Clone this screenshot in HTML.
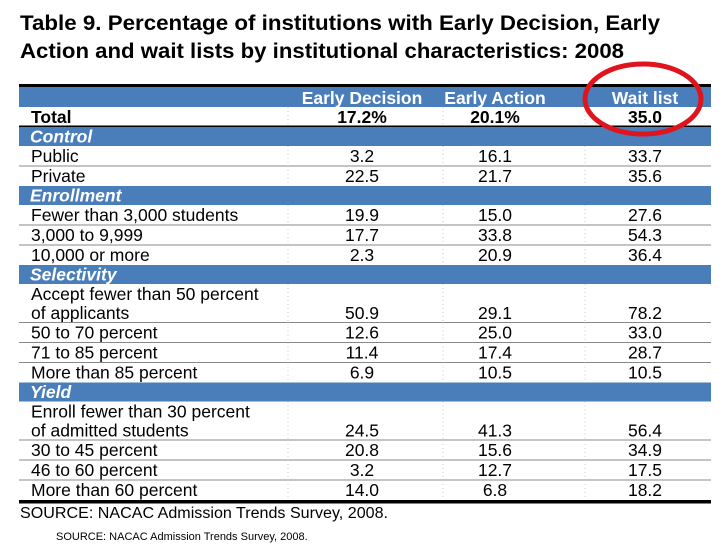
<!DOCTYPE html>
<html><head><meta charset="utf-8"><style>
html,body{margin:0;padding:0;background:#fff;}
svg{display:block;font-family:"Liberation Sans",Arial,sans-serif;}
</style></head><body>
<svg id="s" width="728" height="546" viewBox="0 0 728 546">
<text x="20" y="30" font-size="21" font-weight="bold" textLength="640" lengthAdjust="spacingAndGlyphs">Table 9. Percentage of institutions with Early Decision, Early</text>
<text x="20" y="58" font-size="21" font-weight="bold" textLength="604" lengthAdjust="spacingAndGlyphs">Action and wait lists by institutional characteristics: 2008</text>
<g id="tbl"></g>
<text x="20" y="518" font-size="15.5" textLength="368" lengthAdjust="spacingAndGlyphs">SOURCE: NACAC Admission Trends Survey, 2008.</text>
<text x="56" y="540" font-size="11">SOURCE: NACAC Admission Trends Survey, 2008.</text>
<ellipse cx="643" cy="99" rx="58" ry="35" fill="none" stroke="#e0141c" stroke-width="5"/>
</svg>
<script>
const columns=["Early Decision","Early Action","Wait list"];
const rowLabels=["Total","Control","Public","Private","Enrollment","Fewer than 3,000 students","3,000 to 9,999","10,000 or more","Selectivity","Accept fewer than 50 percent|of applicants","50 to 70 percent","71 to 85 percent","More than 85 percent","Yield","Enroll fewer than 30 percent|of admitted students","30 to 45 percent","46 to 60 percent","More than 60 percent"];
const earlyDecision=["17.2%",null,"3.2","22.5",null,"19.9","17.7","2.3",null,"50.9","12.6","11.4","6.9",null,"24.5","20.8","3.2","14.0"];
const earlyAction=["20.1%",null,"16.1","21.7",null,"15.0","33.8","20.9",null,"29.1","25.0","17.4","10.5",null,"41.3","15.6","12.7","6.8"];
const waitList=["35.0",null,"33.7","35.6",null,"27.6","54.3","36.4",null,"78.2","33.0","28.7","10.5",null,"56.4","34.9","17.5","18.2"];

const NS="http://www.w3.org/2000/svg";
const g=document.getElementById('tbl');
const L=19,R=711,colX=[362,495,645],divX=[288,443,585],FS=17.5;
function mk(t,a){const e=document.createElementNS(NS,t);for(const k in a)e.setAttribute(k,a[k]);g.appendChild(e);return e;}
let e=mk('rect',{x:L,y:84,width:R-L,height:3,fill:'#000'});

e=mk('rect',{x:L,y:87,width:R-L,height:20,fill:'#4a7ebb'});

columns.forEach((c,i)=>{const t=mk('text',{x:colX[i],y:104,'font-size':FS,'font-weight':'bold',fill:'#fff','text-anchor':'middle'});t.textContent=c;
});
let y=107;
rowLabels.forEach((lab,i)=>{
  const isSec=earlyDecision[i]===null;
  const two=lab.includes('|');
  const h=isSec?19:(two?38.5:20);
  if(isSec){
    e=mk('rect',{x:L,y:y,width:R-L,height:h,fill:'#4a7ebb'});
    
    const t=mk('text',{x:30,y:y+15.5,'font-size':FS,'font-weight':'bold','font-style':'italic',fill:'#fff'});t.textContent=lab;
    
  } else {
    const bold=i===0;
    const parts=lab.split('|');
    parts.forEach((p,k)=>{const t=mk('text',{x:31,y:y+16+k*19,'font-size':FS,'font-weight':bold?'bold':'normal'});t.textContent=p;
      });
    const by=y+16+(parts.length-1)*19;
    [earlyDecision[i],earlyAction[i],waitList[i]].forEach((v,c)=>{const t=mk('text',{x:colX[c],y:by,'font-size':FS,'font-weight':bold?'bold':'normal','text-anchor':'middle'});t.textContent=v;
      });
    divX.forEach(dx=>{const d=mk('line',{x1:dx,x2:dx,y1:y,y2:y+h,stroke:'#ccc','stroke-width':1,'stroke-dasharray':'1 3'});
      });
    const nextSec=i+1<rowLabels.length&&earlyDecision[i+1]===null;
    if(i===0){e=mk('rect',{x:L,y:y+h-1.5,width:R-L,height:2.5,fill:'#000'});}
    else if(!nextSec&&i<rowLabels.length-1){e=mk('line',{x1:L,x2:R,y1:y+h,y2:y+h,stroke:'#888','stroke-width':1});}
    else if(i===rowLabels.length-1){e=mk('rect',{x:L,y:y+h,width:R-L,height:3.5,fill:'#000'});}
    else e=null;
    if(e){}
  }
  y+=h;
});
</script>
</body></html>
